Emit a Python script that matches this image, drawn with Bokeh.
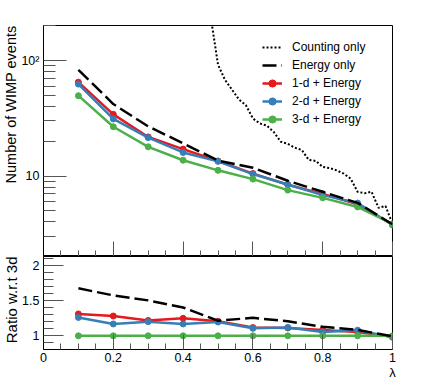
from bokeh.plotting import figure
from bokeh.models import (FixedTicker, CustomJSTickFormatter, Legend, LegendItem,
                          Range1d, CustomLabelingPolicy, Title)
from bokeh.layouts import column
from bokeh.embed import file_html
from bokeh.resources import INLINE

# ---------------- data ----------------
lam = [0.1, 0.2, 0.3, 0.4, 0.5, 0.6, 0.7, 0.8, 0.9, 1.0]
energy_only = [83, 42, 26.9, 19.2, 13.6, 11.8, 9.1, 7.3, 5.85, 3.82]
one_d = [65, 34.2, 21.8, 17.1, 13.5, 10.5, 8.4, 7.0, 5.7, 3.8]
two_d = [62.5, 31.2, 21.5, 16.0, 13.4, 10.4, 8.45, 6.83, 5.83, 3.77]
three_d = [49.6, 26.7, 17.9, 13.7, 11.2, 9.4, 7.55, 6.47, 5.4, 3.85]

lam_count = [0.48, 0.50, 0.52, 0.54, 0.56, 0.58, 0.60, 0.62, 0.64, 0.66,
             0.68, 0.70, 0.72, 0.74, 0.76, 0.78, 0.80, 0.82, 0.84, 0.86,
             0.88, 0.90, 0.92, 0.94, 0.96, 0.98, 1.00]
counting = [230, 92, 68, 56, 46, 41, 31.5, 28.5, 27.3, 24,
            19.8, 19.0, 17.6, 16.8, 13.8, 13.5, 12.0, 11.7, 11.2, 10.5,
            9.5, 7.3, 7.1, 7.3, 5.3, 5.5, 3.85]

x_major = [0, 0.2, 0.4, 0.6, 0.8, 1.0]
x_minor = [0.05, 0.1, 0.15, 0.25, 0.3, 0.35, 0.45, 0.5, 0.55, 0.65, 0.7, 0.75,
           0.85, 0.9, 0.95]
y_major = [10, 100]
y_minor = [3, 4, 5, 6, 7, 8, 9, 20, 30, 40, 50, 60, 70, 80, 90, 200]
r_major = [1, 1.5, 2]
r_minor = [0.9, 1.1, 1.2, 1.3, 1.4, 1.6, 1.7, 1.8, 1.9, 2.1]

ratio_energy = [e / g for e, g in zip(energy_only, three_d)]
ratio_1d = [e / g for e, g in zip(one_d, three_d)]
ratio_2d = [e / g for e, g in zip(two_d, three_d)]
ratio_3d = [e / g for e, g in zip(three_d, three_d)]

RED, BLUE, GREEN = "#e41a1c", "#377eb8", "#4daf4a"
FONT = "Liberation Sans"
TICKC = "#555555"


def style_ticks(ax, major_in, minor_in):
    ax.major_tick_in = major_in
    ax.major_tick_out = 0
    ax.minor_tick_in = minor_in
    ax.minor_tick_out = 0
    ax.major_tick_line_color = TICKC
    ax.minor_tick_line_color = TICKC
    ax.axis_line_color = "black"
    ax.major_label_text_font = FONT
    ax.major_label_text_font_size = "12.5px"
    ax.major_label_text_color = "black"


def side_title(text, size):
    return Title(text=text, align="right", text_font=FONT, text_font_size=size,
                 text_font_style="normal", text_color="black", standoff=0, offset=0)


# ---------------- top panel ----------------
p1 = figure(width=430, height=256, x_range=Range1d(0, 1), y_range=Range1d(2.01, 201),
            y_axis_type="log", output_backend="svg", toolbar_location=None,
            min_border_left=43, min_border_right=38, min_border_top=25,
            min_border_bottom=0)
p1.outline_line_color = "black"
p1.outline_line_width = 1
p1.xgrid.visible = False
p1.ygrid.visible = False

yax = p1.yaxis[0]
yax.ticker = FixedTicker(ticks=y_major, minor_ticks=y_minor)
yax.formatter = CustomJSTickFormatter(
    code="return (Math.abs(tick-100) < 1) ? '10\u00b2' : String(Math.round(tick));")
style_ticks(yax, 23, 12)
yax.major_label_standoff = 4
p1.add_layout(side_title("Number of WIMP events", "14.5px"), "left")

xax = p1.xaxis[0]
xax.ticker = FixedTicker(ticks=x_major, minor_ticks=x_minor)
style_ticks(xax, 15, 6)
xax.major_label_text_font_size = "0px"
xax.major_label_standoff = 0
xax.major_label_policy = CustomLabelingPolicy(code="""
if (typeof indices.unset === 'function') {
  for (const i of Array.from(indices)) { indices.unset(i) }
}
return indices
""")

r_count = p1.line(lam_count, counting, line_color="black", line_width=2, line_dash="2 2")
r1l = p1.line(lam, one_d, line_color=RED, line_width=2.5)
r1c = p1.scatter(lam, one_d, marker="circle", size=6, color=RED)
r2l = p1.line(lam, two_d, line_color=BLUE, line_width=2.5)
r2c = p1.scatter(lam, two_d, marker="circle", size=6, color=BLUE)
r3l = p1.line(lam, three_d, line_color=GREEN, line_width=2.5)
r3c = p1.scatter(lam, three_d, marker="circle", size=6, color=GREEN)
r_en = p1.line(lam, energy_only, line_color="black", line_width=2.5, line_dash="14 5")

legend = Legend(items=[
    LegendItem(label="Counting only", renderers=[r_count]),
    LegendItem(label="Energy only", renderers=[r_en]),
    LegendItem(label="1-d + Energy", renderers=[r1l, r1c]),
    LegendItem(label="2-d + Energy", renderers=[r2l, r2c]),
    LegendItem(label="3-d + Energy", renderers=[r3l, r3c]),
], location=(219, 128))
legend.padding = 0
legend.margin = 0
legend.spacing = 0
legend.glyph_width = 20
legend.glyph_height = 18
legend.label_height = 18
legend.label_standoff = 10
legend.border_line_alpha = 0
legend.background_fill_alpha = 0
legend.label_text_font = FONT
legend.label_text_font_size = "12px"
legend.label_text_color = "black"
p1.add_layout(legend)

# ---------------- ratio panel ----------------
p2 = figure(width=430, height=126, x_range=p1.x_range, y_range=Range1d(0.806, 2.125),
            output_backend="svg", toolbar_location=None,
            min_border_left=43, min_border_right=38, min_border_top=0,
            min_border_bottom=31)
p2.outline_line_color = "black"
p2.outline_line_width = 1
p2.xgrid.visible = False
p2.ygrid.visible = False

yax2 = p2.yaxis[0]
yax2.ticker = FixedTicker(ticks=r_major, minor_ticks=r_minor)
style_ticks(yax2, 20, 10)
yax2.major_label_standoff = 4
p2.add_layout(side_title("Ratio w.r.t 3d", "15px"), "left")

xax2 = p2.xaxis[0]
xax2.ticker = FixedTicker(ticks=x_major, minor_ticks=x_minor)
style_ticks(xax2, 15, 6)
xax2.major_label_standoff = 3
xax2.axis_label = "\u03bb"
xax2.axis_label_standoff = 0
xax2.axis_label_text_font = FONT
xax2.axis_label_text_font_style = "normal"
xax2.axis_label_text_font_size = "13px"
xax2.axis_label_text_color = "black"
try:
    xax2.axis_label_align = "end"
except Exception:
    pass

p2.line(lam, ratio_1d, line_color=RED, line_width=2.5)
p2.scatter(lam, ratio_1d, marker="circle", size=6, color=RED)
p2.line(lam, ratio_2d, line_color=BLUE, line_width=2.5)
p2.scatter(lam, ratio_2d, marker="circle", size=6, color=BLUE)
p2.line(lam, ratio_3d, line_color=GREEN, line_width=2.5)
p2.scatter(lam, ratio_3d, marker="circle", size=6, color=GREEN)
p2.line(lam, ratio_energy, line_color="black", line_width=2.5, line_dash="14 5")

layout = column(p1, p2, spacing=0)
with open("out.html", "w", encoding="utf-8") as f:
    f.write(file_html(layout, INLINE))
